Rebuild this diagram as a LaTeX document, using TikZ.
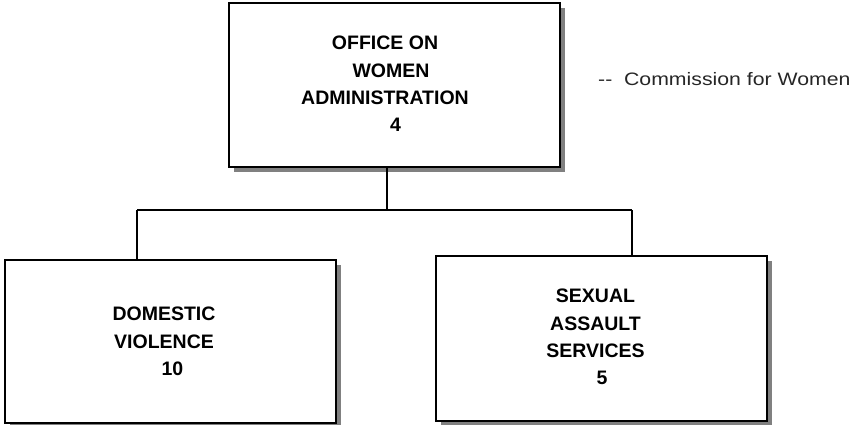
\documentclass[tikz,border=0pt]{standalone}
\usepackage{fontspec}
\setmainfont{Liberation Sans}
\usetikzlibrary{shadows}
\tikzset{
  orgbox/.style={draw=black, line width=1.4pt, fill=white, inner sep=0pt,
    minimum width=331pt,
    drop shadow={shadow xshift=5pt, shadow yshift=-5pt, fill=black!50, opacity=1}},
  boxtext/.style={align=center, inner sep=0pt, anchor=north,
    font=\fontsize{19.5}{27.3}\selectfont\bfseries},
  link/.style={draw=black, line width=1.3pt}
}
\begin{document}
\begin{tikzpicture}[x=1pt, y=-1pt]
\useasboundingbox (0,0) rectangle (856,424);
% boxes
\node[orgbox, minimum height=164pt] (off) at (394.5,85) {};
\node[orgbox, minimum height=163pt] (dv) at (170.5,341.5) {};
\node[orgbox, minimum height=165pt] (sas) at (601.5,338.5) {};
% texts
\node[boxtext] (offt) at (385,36) {OFFICE ON\\\hspace*{12pt}WOMEN\\ADMINISTRATION\\\hspace*{21pt}4};
\node[boxtext] (dvt) at (164,307) {DOMESTIC\\VIOLENCE\\\hspace*{17pt}10};
\node[boxtext] (sast) at (595.5,289) {SEXUAL\\ASSAULT\\SERVICES\\\hspace*{13pt}5};
% connectors
\coordinate (j) at (387,210);
\coordinate (jl) at (137,210);
\coordinate (jr) at (632,210);
\draw[link] (off.south -| j) -- (j);
\draw[link] (jl) -- (jr);
\draw[link] (jl) -- (jl |- dv.north);
\draw[link] (jr) -- (jr |- sas.north);
% side note
\node[anchor=base west, inner sep=0pt, text=black!85] (cw) at (598,85)
  {\scalebox{1.18}[1]{\fontsize{18}{20}\selectfont {-}{-}\ \ Commission for Women}};
\end{tikzpicture}
\end{document}
